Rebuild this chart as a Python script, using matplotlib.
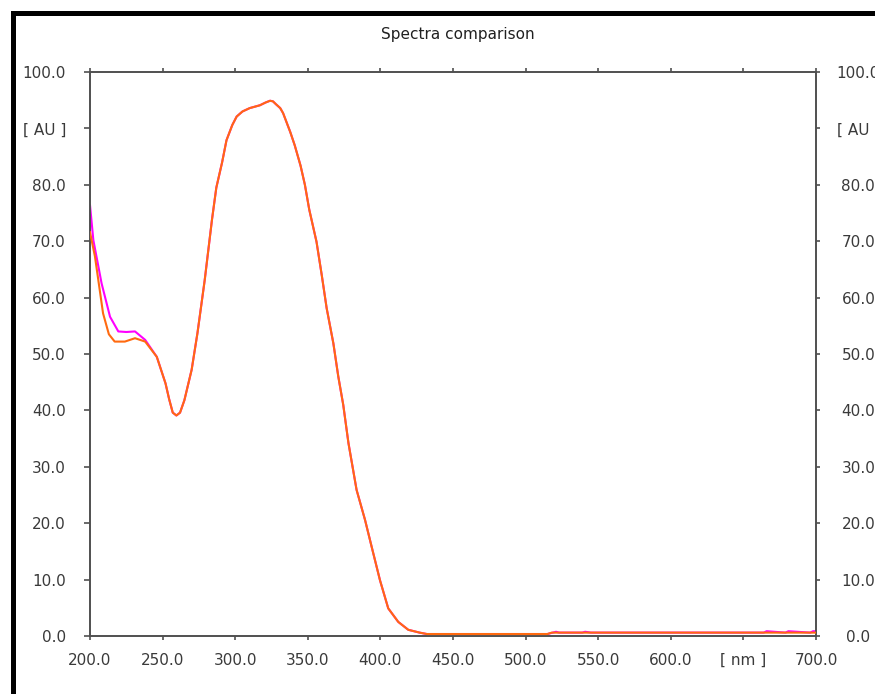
import matplotlib
matplotlib.use('Agg')
import matplotlib.pyplot as plt
from matplotlib.lines import Line2D

# spectra read out at the key points (nm, AU)
wl_orange = [200, 203.4, 209, 213, 217, 224, 231, 238, 246, 252, 254.5, 257, 259.5, 262,
             265, 270, 274, 279, 284, 287, 291, 294, 298, 301, 305, 310, 317, 321, 324,
             326, 328, 331, 333, 338, 341, 345, 348, 351, 356, 359.6, 363, 367.6, 371,
             374.4, 378, 383.6, 389.4, 394, 399.7, 405.4, 412.3, 419.2, 427, 432, 515,
             518, 700]
au_orange = [71.6, 67.3, 57.2, 53.5, 52.2, 52.2, 52.8, 52.2, 49.5, 44.8, 42.0, 39.6, 39.1, 39.6,
             41.8, 47.2, 53.7, 63.1, 73.8, 79.5, 84.0, 87.9, 90.6, 92.1, 93.0, 93.6, 94.1, 94.6, 94.9,
             94.8, 94.3, 93.6, 92.7, 89.3, 87.0, 83.4, 80.0, 75.6, 69.9, 64.0, 58.1, 51.9, 46.0,
             41.0, 34.2, 25.9, 20.6, 15.8, 9.9, 4.9, 2.5, 1.1, 0.6, 0.35, 0.35,
             0.6, 0.6]

wl_magenta = [200, 202.3, 208, 213.8, 219.5, 225, 231, 238, 246, 252, 254.5, 257, 259.5, 262,
              265, 270, 274, 279, 284, 287, 291, 294, 298, 301, 305, 310, 317, 321, 324,
              326, 328, 331, 333, 338, 341, 345, 348, 351, 356, 359.6, 363, 367.6, 371,
              374.4, 378, 383.6, 389.4, 394, 399.7, 405.4, 412.3, 419.2, 427, 432, 515,
              521, 523, 539, 541, 545, 664, 666, 679, 681, 696, 698, 700]
au_magenta = [76.4, 70.2, 62.5, 56.6, 54.0, 53.9, 54.0, 52.5, 49.5, 44.8, 42.0, 39.6, 39.1, 39.6,
              41.8, 47.2, 53.7, 63.1, 73.8, 79.5, 84.0, 87.9, 90.6, 92.1, 93.0, 93.6, 94.1, 94.6, 94.9,
              94.8, 94.3, 93.6, 92.7, 89.3, 87.0, 83.4, 80.0, 75.6, 69.9, 64.0, 58.1, 51.9, 46.0,
              41.0, 34.2, 25.9, 20.6, 15.8, 9.9, 4.9, 2.5, 1.1, 0.6, 0.35, 0.35,
              0.75, 0.6, 0.6, 0.75, 0.6, 0.6, 0.85, 0.6, 0.85, 0.6, 0.85, 0.85]

x_ticks = [200, 250, 300, 350, 400, 450, 500, 550, 600, 650, 700]
x_labels = ['200.0', '250.0', '300.0', '350.0', '400.0', '450.0', '500.0',
            '550.0', '600.0', '[ nm ]', '700.0']
y_ticks = [0, 10, 20, 30, 40, 50, 60, 70, 80, 90, 100]
y_labels = ['0.0', '10.0', '20.0', '30.0', '40.0', '50.0', '60.0', '70.0',
            '80.0', '[ AU ]', '100.0']

plt.rcParams['font.family'] = ['DejaVu Sans']
txt_col = '#3a3a3a'
axis_col = '#505050'

W, H = 875, 694
fig = plt.figure(figsize=(W / 100, H / 100), dpi=100)
ax = fig.add_axes([90 / W, 1 - 636 / H, (816 - 90) / W, (636 - 72) / H])

ax.plot(wl_magenta, au_magenta, color='#ff00ff', lw=1.5, zorder=2)
ax.plot(wl_orange, au_orange, color='#ff6a10', lw=1.5, zorder=3)

ax.set_xlim(200, 700)
ax.set_ylim(0, 100)
ax.set_xticks(x_ticks, x_labels)
ax.set_yticks(y_ticks, y_labels)

for s in ax.spines.values():
    s.set_color(axis_col)
    s.set_linewidth(1.4)

ax.tick_params(axis='x', direction='out', length=3, width=1.2, color=axis_col,
               labelsize=11, labelcolor=txt_col, pad=9, top=True)
ax.tick_params(axis='y', direction='out', length=4.3, width=1.2, color=axis_col,
               labelsize=11, labelcolor=txt_col, pad=13)

# right-hand scale repeats the left one, labels centred
ax_r = ax.twinx()
ax_r.set_ylim(0, 100)
ax_r.set_yticks(y_ticks, y_labels)
ax_r.tick_params(axis='y', direction='out', length=3, width=1.2, color=axis_col,
                 labelsize=11, labelcolor=txt_col, pad=27.5)
for lbl in ax_r.get_yticklabels():
    lbl.set_horizontalalignment('center')
for s in ax_r.spines.values():
    s.set_visible(False)

fig.text((90 + 816) / 2 / W + 0.005, 1 - 35 / H, 'Spectra comparison', ha='center',
         va='center', fontsize=11, color='#202020')

# thick frame along the top and left edges
fx, fy = 12.5 / W, 1 - 12.5 / H
fig.add_artist(Line2D([fx, 1.01], [fy, fy], color='black', lw=3.6,
                      solid_capstyle='projecting', transform=fig.transFigure))
fig.add_artist(Line2D([fx, fx], [-0.01, fy], color='black', lw=3.6,
                      solid_capstyle='projecting', transform=fig.transFigure))

fig.savefig('out.png', dpi=100)
